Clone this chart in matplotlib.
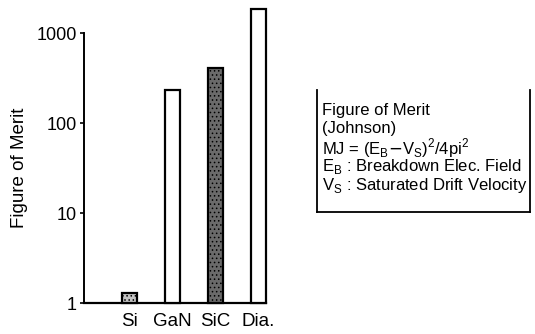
import matplotlib
matplotlib.use("Agg")
import matplotlib.pyplot as plt
from matplotlib.lines import Line2D

plt.rcParams['font.family'] = ['Liberation Sans', 'DejaVu Sans']
plt.rcParams['hatch.linewidth'] = 0.6

categories = ["Si", "GaN", "SiC", "Dia."]
values = [1.3, 230, 410, 1850]
ytick_vals = [1, 10, 100, 1000]
ytick_labels = ["1", "10", "100", "1000"]
box_lines = [
    "Figure of Merit",
    "(Johnson)",
    r"MJ = (E$_\mathregular{B}$$-$V$_\mathregular{S}$)$^\mathregular{2}$/4pi$^\mathregular{2}$",
    r"E$_\mathregular{B}$ : Breakdown Elec. Field",
    r"V$_\mathregular{S}$ : Saturated Drift Velocity",
]

W, H = 535, 334
fig = plt.figure(figsize=(W / 100, H / 100), dpi=100)
ax = fig.add_axes([84 / W, 1 - 303 / H, (266 - 84) / W, (303 - 33) / H])

faces = ["#c4c4c4", "white", "#6a6a6a", "white"]
hatches = ["....", None, "....", None]
x = list(range(len(categories)))
base = 1
bars = ax.bar(x, [v - base for v in values], width=0.34, bottom=base, color=faces,
              edgecolor="black", linewidth=1.6, zorder=3)
for b, h in zip(bars, hatches):
    b.set_clip_on(False)
    if h:
        b.set_hatch(h)

ax.set_yscale("log")
ax.set_ylim(1, 1000)
ax.set_xlim(-1.06, 3.17)
ax.set_yticks(ytick_vals)
ax.set_yticklabels(ytick_labels, fontsize=13)
ax.yaxis.set_minor_locator(matplotlib.ticker.NullLocator())
ax.set_xticks(x)
ax.set_xticklabels(categories, fontsize=13.5)
ax.tick_params(axis="x", length=0, pad=7)
ax.tick_params(axis="y", length=3, width=1.2, pad=2)
for s in ["top", "right"]:
    ax.spines[s].set_visible(False)
ax.spines["left"].set_linewidth(1.4)
ax.spines["bottom"].set_linewidth(1.6)
ax.set_ylabel("Figure of Merit", fontsize=13.5)
ax.yaxis.set_label_coords(-(84 - 28) / (266 - 84), (303 - 168) / (303 - 33))

# legend-like box (open at top, as in the scan)
L, R, T, B = 317 / W, 530 / W, 1 - 90 / H, 1 - 212 / H
for xs, ys in [([L, L], [T, B]), ([L, R], [B, B]), ([R, R], [B, T])]:
    fig.add_artist(Line2D(xs, ys, transform=fig.transFigure, color="black", lw=1.3))
for i, t in enumerate(box_lines):
    fig.text(322 / W, 1 - (110 + i * 19) / H, t, fontsize=12, va="center", ha="left")

fig.savefig("out.png", dpi=100)
